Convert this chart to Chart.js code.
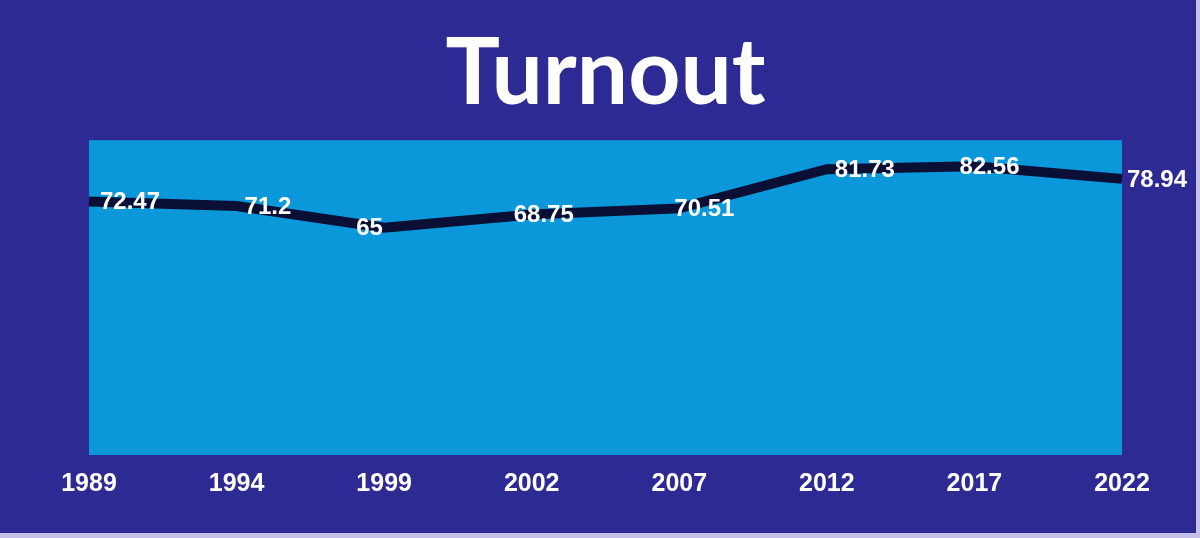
<!DOCTYPE html>
<html>
<head>
<meta charset="utf-8">
<script src="https://cdn.jsdelivr.net/npm/chart.js"></script>
<style>
  html, body { margin: 0; padding: 0; background: #c4c0ea; }
  .wrap { width: 1196px; height: 533px; background: #2e2a93; }
  canvas { display: block; }
</style>
</head>
<body>
<div class="wrap"><canvas id="chart" width="1196" height="533"></canvas></div>
<script>
// values
const years = ['1989', '1994', '1999', '2002', '2007', '2012', '2017', '2022'];
const turnout = [72.47, 71.2, 65, 68.75, 70.51, 81.73, 82.56, 78.94];
const yMin = 0;
const yMax = 90;

// horizontal nudge of each value label, px from its point
const labelDx = [11, 8, -28, -18, -5, 8, -15, 5];

const plotBg = {
  id: 'plotBg',
  beforeDraw(chart) {
    const { ctx, chartArea: a } = chart;
    ctx.save();
    ctx.fillStyle = '#0b98da';
    ctx.fillRect(a.left, a.top, a.right - a.left, a.bottom - a.top);
    ctx.restore();
  }
};

const valueLabels = {
  id: 'valueLabels',
  afterDatasetsDraw(chart) {
    const { ctx } = chart;
    const meta = chart.getDatasetMeta(0);
    ctx.save();
    ctx.font = 'bold 24px "Liberation Sans", Arial, sans-serif';
    ctx.fillStyle = '#ffffff';
    ctx.textAlign = 'left';
    ctx.textBaseline = 'middle';
    meta.data.forEach((pt, i) => {
      ctx.fillText(String(turnout[i]), pt.x + labelDx[i], pt.y + 1);
    });
    ctx.restore();
  }
};

new Chart(document.getElementById('chart'), {
  type: 'line',
  data: {
    labels: years,
    datasets: [{
      data: turnout,
      borderColor: '#0a0f36',
      borderWidth: 10,
      pointRadius: 0,
      tension: 0,
      fill: false
    }]
  },
  options: {
    responsive: false,
    animation: false,
    layout: { padding: { left: 89, right: 74, top: 20, bottom: 28 } },
    plugins: {
      legend: { display: false },
      tooltip: { enabled: false },
      title: {
        display: true,
        text: 'Turnout',
        color: '#ffffff',
        font: { family: 'Lato', weight: 'bold', size: 91, lineHeight: 1.2 },
        padding: { top: 0, bottom: 11 }
      }
    },
    scales: {
      x: {
        offset: false,
        grid: { display: false },
        border: { display: false },
        ticks: {
          color: '#ffffff',
          padding: 6,
          maxRotation: 0,
          autoSkip: false,
          font: { family: '"Liberation Sans", Arial, sans-serif', weight: 'bold', size: 25 }
        }
      },
      y: {
        display: false,
        min: yMin,
        max: yMax
      }
    }
  },
  plugins: [plotBg, valueLabels]
});
</script>
</body>
</html>
